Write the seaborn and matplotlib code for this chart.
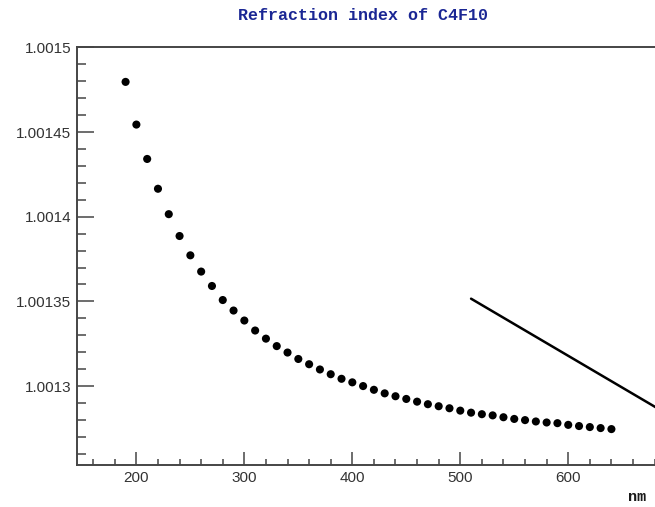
import matplotlib
matplotlib.use("Agg")
import matplotlib.pyplot as plt
from matplotlib.ticker import MultipleLocator, FixedFormatter, FixedLocator
import numpy as np
import pandas as pd
import seaborn as sns

# Wavelengths (nm) of the tabulated points
wavelength_nm = [190, 200, 210, 220, 230, 240, 250, 260, 270, 280,
                 290, 300, 310, 320, 330, 340, 350, 360, 370, 380,
                 390, 400, 410, 420, 430, 440, 450, 460, 470, 480,
                 490, 500, 510, 520, 530, 540, 550, 560, 570, 580,
                 590, 600, 610, 620, 630, 640]

# Refraction index of C4F10 at each wavelength
refr_index = [1.0014796, 1.0014544, 1.0014341, 1.0014165, 1.0014015,
              1.0013886, 1.0013772, 1.0013676, 1.0013591, 1.0013508,
              1.0013446, 1.0013387, 1.0013328, 1.0013280, 1.0013236,
              1.0013198, 1.0013160, 1.0013129, 1.0013098, 1.0013070,
              1.0013043, 1.0013022, 1.0013000, 1.0012978, 1.0012957,
              1.0012940, 1.0012924, 1.0012908, 1.0012893, 1.0012881,
              1.0012869, 1.0012855, 1.0012843, 1.0012834, 1.0012827,
              1.0012816, 1.0012806, 1.0012799, 1.0012791, 1.0012785,
              1.0012781, 1.0012771, 1.0012764, 1.0012758, 1.0012752,
              1.0012746]

# Straight reference segment drawn on top of the graph
segment_nm = [510, 685]
segment_n = [1.0013516, 1.0012860]

y_ticks = [1.0013, 1.00135, 1.0014, 1.00145, 1.0015]
y_tick_labels = ["1.0013", "1.00135", "1.0014", "1.00145", "1.0015"]
x_ticks = [200, 300, 400, 500, 600]

sns.set_theme(style="white")
plt.rcParams["font.family"] = ["Liberation Sans", "DejaVu Sans"]

df = pd.DataFrame({"nm": wavelength_nm, "n": refr_index})

fig = plt.figure(figsize=(6.55, 5.07), dpi=100)
ax = fig.add_axes([77 / 655, 42 / 507, 583 / 655, 418 / 507])

sns.scatterplot(data=df, x="nm", y="n", ax=ax, color="black",
                s=34, edgecolor="none", legend=False, zorder=3)
ax.plot(segment_nm, segment_n, color="black", lw=1.8, clip_on=False, zorder=4)

ax.set_xlim(145, 685)
ax.set_ylim(1.0012534, 1.0015002)

axis_col = "#454545"
for side in ["left", "bottom", "top"]:
    ax.spines[side].set_visible(True)
    ax.spines[side].set_color(axis_col)
    ax.spines[side].set_linewidth(1.4)
ax.spines["right"].set_visible(False)

ax.yaxis.set_major_locator(FixedLocator(y_ticks))
ax.yaxis.set_major_formatter(FixedFormatter(y_tick_labels))
ax.yaxis.set_minor_locator(MultipleLocator(0.00001))
ax.xaxis.set_major_locator(FixedLocator(x_ticks))
ax.xaxis.set_minor_locator(MultipleLocator(20))

ax.tick_params(axis="y", which="major", direction="in", length=12, width=1.1,
               color=axis_col, labelsize=11, labelcolor="#333333", pad=4,
               left=True, right=False)
ax.tick_params(axis="y", which="minor", direction="in", length=6.5, width=1.1,
               color=axis_col, left=True, right=False)
ax.tick_params(axis="x", which="major", direction="in", length=9.5, width=1.1,
               color=axis_col, labelsize=11, labelcolor="#333333", pad=4,
               bottom=True, top=False)
ax.tick_params(axis="x", which="minor", direction="in", length=4.5, width=1.1,
               color=axis_col, bottom=True, top=False)

ax.set_xlabel("")
ax.set_ylabel("")

fig.text(363 / 655, 1 - 15 / 507, "Refraction index of C4F10",
         ha="center", va="center", fontsize=12, fontweight="bold",
         family=["Liberation Mono", "DejaVu Sans Mono"], color="#1a2694")
fig.text(646 / 655, 1 - 497 / 507, "nm", ha="right", va="center",
         fontsize=11, fontweight="bold",
         family=["Liberation Mono", "DejaVu Sans Mono"], color="#1a1a1a")

fig.savefig("out.png", dpi=100)
